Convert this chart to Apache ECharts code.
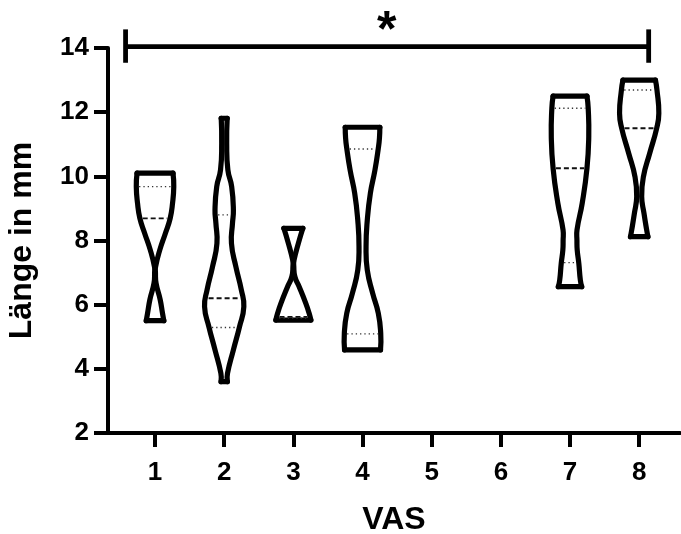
<!DOCTYPE html>
<html>
<head>
<meta charset="utf-8">
<script src="https://cdn.jsdelivr.net/npm/echarts@6/dist/echarts.min.js"></script>
<style>
  html, body { margin: 0; padding: 0; background: #fff; }
  #chart { width: 681px; height: 534px; }
</style>
</head>
<body>
<div id="chart"></div>
<script>
// VAS groups
const categories = [1, 2, 3, 4, 5, 6, 7, 8];
// violin outline: length values (mm) and half width (x units) at each value
const violinY = [
  [5.5, 5.73, 6.15, 6.67, 7.0, 7.18, 7.7, 8.22, 8.69, 9.16, 9.68, 10.1],
  [3.6, 3.86, 4.59, 5.31, 5.94, 6.46, 7.18, 7.91, 8.54, 8.95, 9.68, 10.2, 11.03, 11.81],
  [5.52, 5.73, 6.04, 6.56, 6.87, 7.2, 7.39, 7.91, 8.38],
  [4.59, 5.11, 5.73, 6.35, 7.08, 7.81, 8.64, 9.47, 10.2, 10.87, 11.2, 11.53],
  [],
  [],
  [6.56, 6.77, 7.29, 7.7, 8.0, 8.33, 9.16, 10.25, 11.24, 12.12, 12.5],
  [8.12, 8.33, 8.85, 9.37, 9.99, 10.72, 11.5, 11.97, 12.69, 13.0]
];
const violinHalfWidth = [
  [0.127, 0.108, 0.075, 0.015, 0.006, 0.008, 0.068, 0.149, 0.219, 0.253, 0.271, 0.26],
  [0.045, 0.048, 0.133, 0.221, 0.284, 0.248, 0.169, 0.105, 0.12, 0.133, 0.108, 0.053, 0.036, 0.043],
  [0.253, 0.228, 0.18, 0.084, 0.022, 0.006, 0.01, 0.072, 0.137],
  [0.26, 0.263, 0.228, 0.147, 0.069, 0.051, 0.069, 0.113, 0.18, 0.228, 0.245, 0.25],
  [],
  [],
  [0.169, 0.149, 0.127, 0.104, 0.1, 0.101, 0.176, 0.245, 0.271, 0.263, 0.245],
  [0.126, 0.108, 0.069, 0.036, 0.061, 0.152, 0.253, 0.284, 0.257, 0.235]
];
const quartile1 = [6.9, 5.29, 5.58, 5.09, null, null, 7.31, 8.85];
const medians = [8.69, 6.2, 5.62, 7.81, null, null, 10.25, 11.5];
const quartile3 = [9.68, 8.8, 7.2, 10.85, null, null, 12.12, 12.69];
const yTicks = [2, 4, 6, 8, 10, 12, 14];

// significance bracket between VAS 1 and VAS 8
const sigFrom = 0.574, sigTo = 8.137, sigY = 14.04, capLow = 13.54, capHigh = 14.58;
const sigLabel = "*";
const sigLabelPos = [4.35, 14.48];

const font = '"Liberation Sans", Arial, sans-serif';

function widthAt(i, v) {
  const ys = violinY[i], hw = violinHalfWidth[i];
  if (v <= ys[0]) return hw[0];
  for (let k = 1; k < ys.length; k++) {
    if (v <= ys[k]) {
      const t = (v - ys[k - 1]) / (ys[k] - ys[k - 1]);
      return hw[k - 1] + t * (hw[k] - hw[k - 1]);
    }
  }
  return hw[hw.length - 1];
}

function quartileLine(api, i, v, dash, width, color) {
  if (v == null) return null;
  const c = categories[i];
  const p = api.coord([c, v]);
  const half = api.size([widthAt(i, v), 0])[0] - 2.8;
  if (half < 2) return null;
  return {
    type: "line",
    shape: { x1: p[0] - half, y1: p[1], x2: p[0] + half, y2: p[1] },
    style: { stroke: color, lineWidth: width, lineDash: dash }
  };
}

function renderViolin(params, api) {
  const i = api.value(1);
  const c = categories[i];
  const ys = violinY[i], hw = violinHalfWidth[i];
  const left = ys.map((y, k) => api.coord([c - hw[k], y]));
  const right = ys.map((y, k) => api.coord([c + hw[k], y]));
  const n = ys.length - 1;
  const st = { stroke: "#000", lineWidth: 5.2, fill: null, lineCap: "round", lineJoin: "round" };
  const children = [
    { type: "polyline", shape: { points: left, smooth: 0.5 }, style: st },
    { type: "polyline", shape: { points: right, smooth: 0.5 }, style: st },
    { type: "line", shape: { x1: left[n][0], y1: left[n][1], x2: right[n][0], y2: right[n][1] }, style: st },
    { type: "line", shape: { x1: left[0][0], y1: left[0][1], x2: right[0][0], y2: right[0][1] }, style: st }
  ];
  [
    quartileLine(api, i, quartile1[i], [1.3, 3], 1.4, "#333"),
    quartileLine(api, i, medians[i], [5, 3], 1.9, "#111"),
    quartileLine(api, i, quartile3[i], [1.3, 3], 1.4, "#333")
  ].forEach((el) => { if (el) children.push(el); });
  return { type: "group", children: children };
}

function renderBracket(params, api) {
  const a = api.coord([sigFrom, sigY]);
  const b = api.coord([sigTo, sigY]);
  const aLo = api.coord([sigFrom, capLow]), aHi = api.coord([sigFrom, capHigh]);
  const bLo = api.coord([sigTo, capLow]), bHi = api.coord([sigTo, capHigh]);
  const mid = api.coord([api.value(0), api.value(1)]);
  const st = { stroke: "#000", lineWidth: 4.8 };
  return {
    type: "group",
    children: [
      { type: "line", shape: { x1: a[0], y1: a[1], x2: b[0], y2: b[1] }, style: st },
      { type: "line", shape: { x1: aLo[0], y1: aLo[1], x2: aHi[0], y2: aHi[1] }, style: st },
      { type: "line", shape: { x1: bLo[0], y1: bLo[1], x2: bHi[0], y2: bHi[1] }, style: st },
      {
        type: "text",
        x: mid[0], y: mid[1],
        style: {
          text: sigLabel, fill: "#000", font: "bold 50px " + font,
          align: "center", verticalAlign: "middle"
        }
      }
    ]
  };
}

const violinData = categories
  .map((c, i) => [c, i])
  .filter((d) => violinY[d[1]].length > 0);

const option = {
  animation: false,
  backgroundColor: "#fff",
  grid: { left: 108, right: 1, top: 48, bottom: 101, outerBoundsMode: "none" },
  xAxis: {
    type: "value",
    min: 0.32,
    max: 8.59,
    name: "VAS",
    nameLocation: "middle",
    nameGap: 71,
    nameTextStyle: { color: "#000", fontSize: 32, fontWeight: "bold", fontFamily: font },
    axisLine: { lineStyle: { color: "#000", width: 4 } },
    axisTick: { customValues: categories, length: 14, lineStyle: { color: "#000", width: 4 } },
    axisLabel: {
      customValues: categories,
      margin: 27,
      color: "#000", fontSize: 26, fontWeight: "bold", fontFamily: font
    },
    splitLine: { show: false }
  },
  yAxis: {
    type: "value",
    min: 2,
    max: 14,
    interval: 2,
    name: "Länge in mm",
    nameLocation: "middle",
    nameGap: 70,
    nameTextStyle: { color: "#000", fontSize: 32, fontWeight: "bold", fontFamily: font },
    axisLine: { show: true, lineStyle: { color: "#000", width: 4 } },
    axisTick: { show: true, length: 14, lineStyle: { color: "#000", width: 4 } },
    axisLabel: {
      customValues: yTicks,
      margin: 19,
      color: "#000", fontSize: 26, fontWeight: "bold", fontFamily: font
    },
    splitLine: { show: false }
  },
  series: [
    {
      type: "custom",
      renderItem: renderViolin,
      data: violinData,
      clip: false,
      silent: true
    },
    {
      type: "custom",
      renderItem: renderBracket,
      data: [sigLabelPos],
      clip: false,
      silent: true
    }
  ]
};

const myChart = echarts.init(document.getElementById("chart"));
myChart.setOption(option);
</script>
</body>
</html>
